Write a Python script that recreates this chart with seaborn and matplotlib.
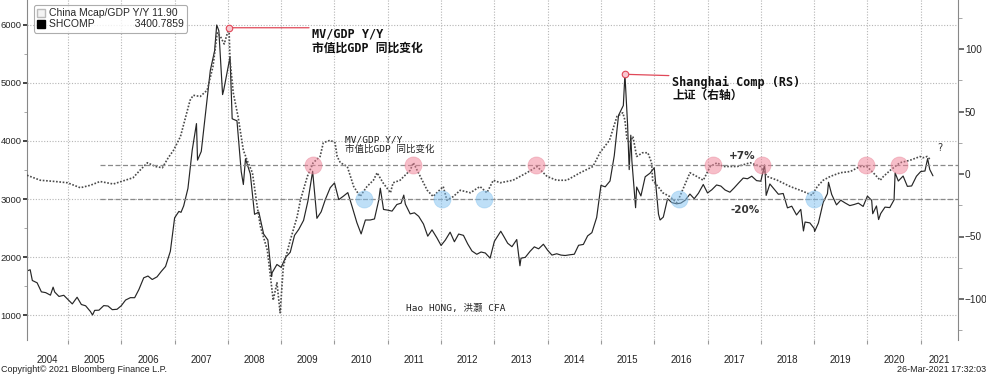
import matplotlib
matplotlib.use('Agg')
import matplotlib.pyplot as plt
from matplotlib.lines import Line2D
from matplotlib.ticker import MultipleLocator
import numpy as np
import seaborn as sns

# Shanghai Composite (left axis), dates as fractional years
shcomp_dates = [
    2004.23, 2004.29, 2004.33, 2004.42, 2004.50, 2004.58, 2004.67, 2004.72, 2004.75, 2004.83, 2004.92,
    2005.00, 2005.08, 2005.17, 2005.25, 2005.33, 2005.42, 2005.46, 2005.50, 2005.58, 2005.67, 2005.75, 2005.83, 2005.92,
    2006.00, 2006.08, 2006.17, 2006.25, 2006.33, 2006.42, 2006.50, 2006.58, 2006.67, 2006.75, 2006.83, 2006.92,
    2007.00, 2007.08, 2007.12, 2007.17, 2007.25, 2007.33, 2007.41, 2007.43, 2007.50, 2007.58, 2007.67, 2007.75,
    2007.79, 2007.83, 2007.90, 2007.92,
    2008.00, 2008.04, 2008.08, 2008.17, 2008.25, 2008.29, 2008.33, 2008.42, 2008.50, 2008.58, 2008.67, 2008.75,
    2008.82, 2008.83, 2008.92,
    2009.00, 2009.08, 2009.17, 2009.25, 2009.33, 2009.42, 2009.50, 2009.58, 2009.59, 2009.67, 2009.75, 2009.83, 2009.92,
    2010.00, 2010.08, 2010.17, 2010.25, 2010.33, 2010.42, 2010.50, 2010.58, 2010.67, 2010.75, 2010.83, 2010.86, 2010.92,
    2011.00, 2011.08, 2011.17, 2011.25, 2011.30, 2011.33, 2011.42, 2011.50, 2011.58, 2011.67, 2011.75, 2011.83, 2011.92,
    2012.00, 2012.08, 2012.17, 2012.25, 2012.33, 2012.42, 2012.50, 2012.58, 2012.67, 2012.75, 2012.83, 2012.92,
    2013.00, 2013.08, 2013.12, 2013.17, 2013.25, 2013.33, 2013.42, 2013.48, 2013.50, 2013.58, 2013.67, 2013.75, 2013.83, 2013.92,
    2014.00, 2014.08, 2014.17, 2014.25, 2014.33, 2014.42, 2014.50, 2014.58, 2014.67, 2014.75, 2014.83, 2014.92,
    2015.00, 2015.08, 2015.17, 2015.25, 2015.33, 2015.42, 2015.45, 2015.50, 2015.53, 2015.56, 2015.58, 2015.65,
    2015.67, 2015.75, 2015.83, 2015.92,
    2016.00, 2016.08, 2016.11, 2016.17, 2016.25, 2016.33, 2016.42, 2016.50, 2016.58, 2016.67, 2016.75, 2016.83, 2016.92,
    2017.00, 2017.08, 2017.17, 2017.25, 2017.33, 2017.42, 2017.50, 2017.58, 2017.67, 2017.75, 2017.83, 2017.92,
    2018.00, 2018.07, 2018.08, 2018.10, 2018.17, 2018.25, 2018.33, 2018.42, 2018.50, 2018.58, 2018.67, 2018.75,
    2018.80, 2018.83, 2018.92,
    2019.00, 2019.01, 2019.08, 2019.17, 2019.25, 2019.27, 2019.33, 2019.42, 2019.50, 2019.58, 2019.67, 2019.75,
    2019.83, 2019.92,
    2020.00, 2020.08, 2020.10, 2020.17, 2020.21, 2020.25, 2020.33, 2020.42, 2020.50, 2020.52, 2020.58, 2020.67,
    2020.75, 2020.83, 2020.92,
    2021.00, 2021.08, 2021.13, 2021.17, 2021.23,
]
shcomp_vals = [
    1760, 1780, 1595, 1555, 1399, 1386, 1342, 1480, 1396, 1320, 1340,
    1266, 1191, 1306, 1181, 1159, 1060, 1000, 1080, 1083, 1162, 1155, 1092, 1099,
    1161, 1258, 1299, 1298, 1440, 1641, 1672, 1612, 1658, 1752, 1837, 2099,
    2675, 2786, 2770, 2881, 3183, 3841, 4300, 3670, 3820, 4471, 5218, 5552,
    6000, 5900, 4800, 4871,
    5261, 5450, 4383, 4348, 3472, 3250, 3693, 3433, 2736, 2775, 2397, 2293,
    1664, 1729, 1871,
    1821, 1990, 2082, 2373, 2477, 2632, 2959, 3412, 3478, 2667, 2779, 2996, 3195,
    3277, 2989, 3051, 3110, 2871, 2592, 2398, 2638, 2638, 2656, 2979, 3186, 2820,
    2808, 2791, 2905, 2928, 3067, 2911, 2743, 2762, 2701, 2568, 2359, 2468, 2333,
    2199, 2292, 2428, 2263, 2396, 2373, 2225, 2103, 2047, 2086, 2069, 1980,
    2269, 2385, 2444, 2366, 2237, 2178, 2301, 1849, 1979, 1994, 2098, 2175, 2141, 2220,
    2116, 2033, 2056, 2033, 2026, 2039, 2048, 2202, 2217, 2364, 2420, 2683,
    3235, 3210, 3310, 3748, 4442, 4612, 5150, 4277, 3507, 4100, 3664, 2850,
    3206, 3053, 3383, 3445,
    3539, 2738, 2638, 2688, 3004, 2938, 2917, 2930, 2979, 3085, 3005, 3100, 3250,
    3104, 3159, 3242, 3223, 3155, 3117, 3192, 3273, 3361, 3349, 3393, 3317,
    3307, 3587, 3481, 3062, 3259, 3169, 3082, 3095, 2847, 2876, 2725, 2821,
    2449, 2603, 2588,
    2494, 2440, 2585, 2941, 3091, 3288, 3078, 2899, 2979, 2933, 2886, 2905,
    2929, 2872,
    3050, 2977, 2746, 2880, 2646, 2750, 2860, 2852, 2985, 3450, 3310, 3396,
    3218, 3225, 3392,
    3473, 3483, 3696, 3509, 3400,
]

# China Mcap/GDP Y/Y (right axis)
mcap_dates = [
    2004.23, 2004.48, 2004.76, 2004.99, 2005.23, 2005.42, 2005.60, 2005.85,
    2006.07, 2006.22, 2006.35, 2006.49, 2006.64, 2006.77, 2006.88, 2006.98,
    2007.11, 2007.29, 2007.35, 2007.48, 2007.61, 2007.72, 2007.80, 2007.86, 2007.93,
    2008.02, 2008.04, 2008.10, 2008.19, 2008.29, 2008.36, 2008.46, 2008.55, 2008.61,
    2008.74, 2008.79, 2008.85, 2008.92, 2008.98,
    2009.04, 2009.17, 2009.30, 2009.36, 2009.49, 2009.60, 2009.73, 2009.79, 2009.92,
    2010.01, 2010.05, 2010.11, 2010.24, 2010.36, 2010.48, 2010.61, 2010.73, 2010.80, 2010.91,
    2011.05, 2011.10, 2011.23, 2011.42, 2011.48, 2011.61, 2011.74, 2011.85,
    2012.04, 2012.11, 2012.23, 2012.36, 2012.55, 2012.73, 2012.86, 2012.98,
    2013.11, 2013.35, 2013.61, 2013.80, 2013.99,
    2014.17, 2014.36, 2014.61, 2014.85, 2014.98,
    2015.16, 2015.30, 2015.41, 2015.45, 2015.49, 2015.54, 2015.60, 2015.67, 2015.78, 2015.88, 2015.95, 2015.97,
    2016.07, 2016.16, 2016.29, 2016.42, 2016.48, 2016.61, 2016.67, 2016.80, 2016.92,
    2017.05, 2017.18, 2017.29, 2017.56, 2017.80, 2017.99,
    2018.12, 2018.31, 2018.55, 2018.80, 2018.96,
    2019.06, 2019.17, 2019.30, 2019.49, 2019.68, 2019.86, 2019.99,
    2020.11, 2020.24, 2020.30, 2020.43, 2020.61, 2020.80, 2020.99,
    2021.04, 2021.12, 2021.17,
]
mcap_vals = [
    -1, -5, -6, -7, -11, -9, -6, -8,
    -5, -3, 3, 9, 6, 5, 13, 19,
    30, 59, 63, 62, 67, 86, 113, 110, 104,
    117, 91, 65, 46, 19, 11, 1, -26, -42,
    -61, -79, -101, -87, -111,
    -74, -53, -34, -21, -2, 9, 14, 25, 27,
    25, 14, 9, 6, -10, -18, -10, -5, 1, -7,
    -15, -7, -5, 3, 9, -2, -13, -18,
    -10, -21, -18, -13, -15, -10, -15, -5,
    -7, -5, 1, 6, -2,
    -5, -5, 1, 6, 17,
    27, 46, 49, 43, 27, 25, 30, 14, 17, 17, 9, -5,
    -10, -15, -18, -23, -18, -5, 1, -2, -5,
    6, 9, 6, 6, 9, 6,
    -2, -5, -10, -14, -17,
    -10, -5, -2, 1, 2, 6, 6,
    1, -5, -2, 3, 9, 11, 14,
    13, 14, 12,
]

# highlighted touches of the +7% / -20% bands
red_dates = [2009.60, 2011.48, 2013.79, 2017.11, 2018.03, 2019.97, 2020.60]
blue_dates = [2010.55, 2012.01, 2012.81, 2016.46, 2019.00]
levels = [7, -20]
level_labels = ['+7%', '-20%']

years = list(range(2004, 2022))
x_min, x_max = 2004.23, 2021.70

sns.set_style('white')
plt.rcParams['font.family'] = ['DejaVu Sans', 'Noto Sans CJK SC']
mono = ['DejaVu Sans Mono', 'Noto Sans CJK SC']
narrow = ['Liberation Sans Narrow', 'Liberation Sans']

fig = plt.figure(figsize=(9.87, 3.76), dpi=100)
ax = fig.add_axes([27 / 987, 36 / 376, 931 / 987, 340 / 376])
ax2 = ax.twinx()

sns.lineplot(x=shcomp_dates, y=shcomp_vals, ax=ax, color='#262626', lw=0.85)
sns.lineplot(x=mcap_dates, y=mcap_vals, ax=ax2, color='#4a4a4a', lw=1.2, linestyle=(0, (1, 1)))

ax.set_xlim(x_min, x_max)
ax.set_ylim(569, 6431)
ax2.set_ylim(-132.8, 139.2)
ax.set_xlabel('')
ax.set_ylabel('')
ax2.set_ylabel('')

# band lines and circles
ax2.hlines(levels, 2005.6, x_max, colors='#8a8a8a', linestyles=(0, (4, 2)), lw=0.9)
ax2.scatter(red_dates, [levels[0]] * len(red_dates), s=150, color='#f07f95', alpha=0.5,
            edgecolor='#e8889a', lw=0.6, zorder=5)
ax2.scatter(blue_dates, [levels[1]] * len(blue_dates), s=150, color='#7fc0f0', alpha=0.5,
            edgecolor='#88c4ef', lw=0.6, zorder=5)

# grid / ticks
ax.set_yticks(range(1000, 6001, 1000))
ax.yaxis.set_minor_locator(MultipleLocator(500))
ax2.set_yticks([-100, -50, 0, 50, 100])
ax2.yaxis.set_minor_locator(MultipleLocator(25))
ax.grid(which='major', color='#b5b5b5', linestyle=(0, (1, 1.5)), lw=0.8)

year_pos = [(max(y, x_min) + min(y + 1, x_max)) / 2 for y in years]
ax.set_xticks(years[1:])
ax.set_xticklabels([])
ax.set_xticks(year_pos, minor=True)
ax.set_xticklabels([str(y) for y in years], minor=True, fontfamily=narrow)
ax.tick_params(axis='x', which='major', length=3, color='#999', bottom=True)
ax.tick_params(axis='x', which='minor', length=0, pad=11, labelsize=7, labelcolor='#222')
ax.tick_params(axis='y', which='major', length=3, width=1.2, color='#222', labelsize=6.8, pad=1, left=True)
ax.tick_params(axis='y', which='minor', length=2.5, color='#999', left=True)
ax2.tick_params(axis='y', which='major', length=4, width=1.2, color='#555', labelsize=7.2, pad=1, right=True)
ax2.tick_params(axis='y', which='minor', length=3, color='#999', right=True)
for lab in ax.get_yticklabels() + ax2.get_yticklabels():
    lab.set_fontfamily(narrow)

for a in (ax, ax2):
    a.spines['top'].set_visible(False)
    a.spines['bottom'].set_visible(False)
ax.spines['right'].set_visible(False)
ax2.spines['left'].set_visible(False)
ax.spines['left'].set_color('#888')
ax2.spines['right'].set_color('#888')

# legend
handles = [Line2D([], [], marker='s', ls='none', markersize=6, markerfacecolor='#f4f4f4', markeredgecolor='#bbb'),
           Line2D([], [], marker='s', ls='none', markersize=6, markerfacecolor='black', markeredgecolor='black')]
leg = ax2.legend(handles, ['China Mcap/GDP Y/Y 11.90', 'SHCOMP' + ' ' * 14 + '3400.7859'],
                 loc='upper left', bbox_to_anchor=(0.002, 1.0), handlelength=0.8,
                 handletextpad=0.3, borderpad=0.3, labelspacing=0.1, frameon=True, fancybox=True,
                 prop={'family': 'Liberation Sans', 'size': 7.5})
leg.get_frame().set_edgecolor('#999')
leg.get_frame().set_linewidth(0.8)

# peak annotations
i1 = int(np.argmax(mcap_vals))
ax2.scatter([mcap_dates[i1]], [mcap_vals[i1]], s=22, facecolor='#f8c8d0', edgecolor='#e04858', lw=0.8, zorder=6)
ax2.annotate('MV/GDP Y/Y\n市值比GDP 同比变化', xy=(mcap_dates[i1], mcap_vals[i1]), xytext=(60, 0),
             textcoords='offset points', va='top', ha='left', fontsize=8.5, fontweight='bold',
             family=mono, color='#111', linespacing=1.05,
             arrowprops=dict(arrowstyle='-', color='#e04858', lw=0.9, relpos=(0, 1), shrinkA=0, shrinkB=0))

i2 = int(np.argmax(shcomp_vals[130:])) + 130
ax.scatter([shcomp_dates[i2]], [shcomp_vals[i2]], s=22, facecolor='#f8c8d0', edgecolor='#e04858', lw=0.8, zorder=6)
ax.annotate('Shanghai Comp (RS)\n上证（右轴）', xy=(shcomp_dates[i2], shcomp_vals[i2]), xytext=(34, -1),
            textcoords='offset points', va='top', ha='left', fontsize=8.5, fontweight='bold',
            family=mono, color='#111', linespacing=1.05,
            arrowprops=dict(arrowstyle='-', color='#e04858', lw=0.9, relpos=(0, 1), shrinkA=0, shrinkB=0))

ax2.text(2010.2, 31, 'MV/GDP Y/Y\n市值比GDP 同比变化', va='top', ha='left', fontsize=6.8,
         family=mono, color='#222', linespacing=1.05)

ax2.annotate(level_labels[0], xy=(2017.65, levels[0]), xytext=(0, 3), textcoords='offset points',
             ha='center', va='bottom', fontsize=7.5, fontweight='bold', color='#333')
ax2.annotate(level_labels[1], xy=(2017.7, levels[1]), xytext=(0, -4), textcoords='offset points',
             ha='center', va='top', fontsize=7.5, fontweight='bold', color='#333')
ax2.text(2021.36, 21, '?', ha='center', va='center', fontsize=7, color='#333')

ax.text(0.46, 0.094, 'Hao HONG, 洪灏 CFA', transform=ax.transAxes, ha='center', va='center',
        fontsize=6.8, family=mono, color='#222')

fig.text(0.001, 0.016, 'Copyright© 2021 Bloomberg Finance L.P.', ha='left', va='center',
         fontsize=6.5, family=narrow, color='#222')
fig.text(0.999, 0.016, '26-Mar-2021 17:32:03', ha='right', va='center',
         fontsize=6.5, family=narrow, color='#222')

fig.savefig('out.png', dpi=100)
